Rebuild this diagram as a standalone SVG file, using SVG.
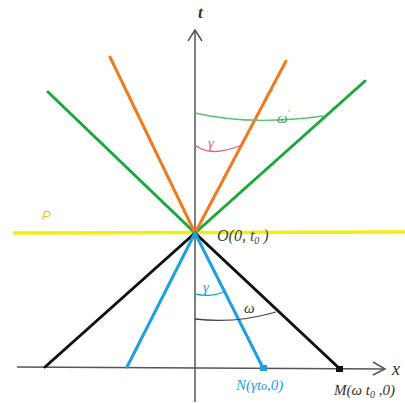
<svg xmlns="http://www.w3.org/2000/svg" width="405" height="403" viewBox="0 0 405 403">
<style>
.ax{stroke:#555;stroke-width:1.5;fill:none}
.ln{stroke-width:3;stroke-linecap:round;fill:none}
.arc{stroke-width:1.3;fill:none}
.lbl{font-family:"Liberation Serif",serif;font-style:italic}
</style>
<rect width="405" height="403" fill="#fff"/>
<g id="axes">
<line class="ax" x1="195" y1="402" x2="195" y2="30"/>
<polyline class="ax" points="188,41 195,30 202,41"/>
<line class="ax" x1="17" y1="367" x2="385" y2="369"/>
<polyline class="ax" points="373,362 385,369 373,375"/>
<text class="lbl" x="198" y="18" font-size="17" font-weight="bold" fill="#333">t</text>
<text class="lbl" x="392" y="375" font-size="18" fill="#333">x</text>
</g>
<g id="plane-P">
<line x1="13" y1="233" x2="405" y2="232" stroke="#F2EE10" stroke-width="3.5"/>
<text x="42" y="220" font-family="Liberation Sans,sans-serif" font-style="italic" font-size="13" fill="#E8C820">P</text>
</g>
<g id="connectors">
<line class="ln" x1="195" y1="233" x2="48" y2="92" stroke="#1AA83A"/>
<line class="ln" x1="195" y1="233" x2="365" y2="81" stroke="#1AA83A"/>
<line class="ln" x1="195" y1="233" x2="110" y2="57" stroke="#F07A20"/>
<line class="ln" x1="195" y1="233" x2="286" y2="61" stroke="#F07A20"/>
<line class="ln" x1="195" y1="233" x2="45" y2="367" stroke="#111"/>
<line class="ln" x1="195" y1="233" x2="340" y2="369" stroke="#111"/>
<line class="ln" x1="195" y1="233" x2="127" y2="367" stroke="#1EA0E0"/>
<line class="ln" x1="195" y1="233" x2="263" y2="368" stroke="#1EA0E0"/>
<rect x="260" y="365" width="7" height="6" fill="#1EA0E0"/>
<rect x="336" y="366" width="7" height="6" fill="#111"/>
</g>
<g id="angle-omega-prime">
<path class="arc" d="M195,113 Q250,126 323,116" stroke="#5CC070"/>
<text class="lbl" x="277" y="123" font-size="15" fill="#3CA050">ω<tspan font-size="9" dy="-7">'</tspan></text>
</g>
<g id="angle-gamma-top">
<path class="arc" d="M195,145 Q210,158 242,145" stroke="#E06080"/>
<text class="lbl" x="208" y="148" font-size="15" fill="#E06080">γ</text>
</g>
<g id="angle-gamma-bottom">
<path class="arc" d="M195,294 Q210,298 226,291" stroke="#1EA0E0"/>
<text class="lbl" x="203" y="292" font-size="15" fill="#1EA0E0">γ</text>
</g>
<g id="angle-omega">
<path class="arc" d="M195,319 Q235,324 276,312" stroke="#444"/>
<text class="lbl" x="244" y="313" font-size="15" fill="#333">ω</text>
</g>
<g id="label-O">
<text class="lbl" x="217" y="241" font-size="16" fill="#444">O(0, t<tspan font-size="10" dy="3">0</tspan><tspan dy="-3"> )</tspan></text>
</g>
<g id="label-N">
<text class="lbl" x="236" y="390" font-size="15" fill="#1EA0E0">N(γt<tspan font-size="12">o</tspan>,0)</text>
</g>
<g id="label-M">
<text class="lbl" x="334" y="395" font-size="15" fill="#333">M(ω t<tspan font-size="10" dy="3">0</tspan><tspan dy="-3"> ,0)</tspan></text>
</g>
</svg>
